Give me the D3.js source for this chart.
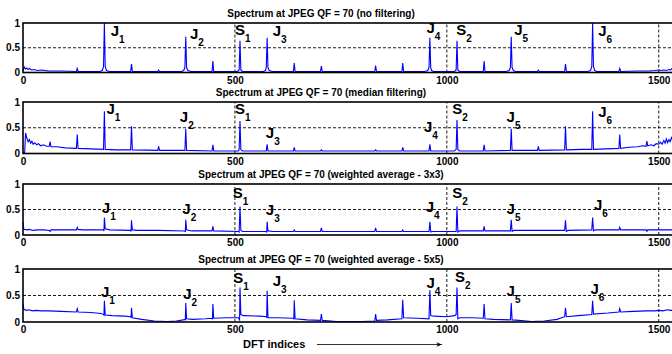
<!DOCTYPE html>
<html>
<head>
<meta charset="utf-8">
<script src="https://cdn.jsdelivr.net/npm/d3@7"></script>
<style>
  body { margin: 0; background: #fff; }
  svg { display: block; font-family: "Liberation Sans", Arial, sans-serif; font-weight: bold; }
  .grid { stroke: #000; stroke-width: 0.9; stroke-dasharray: 3,2; }
  .frame { stroke: #000; stroke-width: 1.6; fill: none; }
  .tick { font-size: 10px; }
  .spec { fill: none; stroke: #0000ff; stroke-width: 1.1; }
</style>
</head>
<body>
<svg id="chart" width="672" height="354"></svg>
<script>
// region data
const titles = [
  'Spectrum at JPEG QF = 70 (no filtering)',
  'Spectrum at JPEG QF = 70 (median filtering)',
  'Spectrum at JPEG QF = 70 (weighted average - 3x3)',
  'Spectrum at JPEG QF = 70 (weighted average - 5x5)'
];
const xTicks = [0, 500, 1000, 1500];
const yTicks = [0, 0.5, 1];
const xLabel = 'DFT indices';

// [DFT index, normalised magnitude]
const specNoFilter = [
  [0,0.03],[3,0.11],[6,0.07],[9,0.09],[12,0.06],[16,0.08],[20,0.05],[26,0.06],[34,0.04],[44,0.05],[60,0.03],[90,0.03],
  [126,0.02],[128,0.08],[130,0.02],[182,0.02],[187,0.04],[190,0.12],[192,1.0],[194,0.12],[197,0.04],[204,0.02],
  [254,0.02],[256,0.17],[258,0.02],[318,0.02],[320,0.05],[322,0.02],[374,0.02],[379,0.04],[382,0.1],[384,0.72],[386,0.1],[389,0.04],[396,0.02],
  [446,0.02],[448,0.23],[450,0.02],[506,0.02],[510,0.05],[512,0.64],[514,0.05],[518,0.02],
  [567,0.02],[572,0.04],[574,0.1],[576,0.7],[578,0.1],[581,0.04],[588,0.02],[638,0.02],[640,0.19],[642,0.02],
  [702,0.02],[704,0.13],[706,0.02],[768,0.02],[830,0.02],[832,0.14],[834,0.02],[894,0.02],[896,0.19],[898,0.02],
  [948,0.02],[955,0.04],[958,0.1],[960,0.7],[962,0.1],[964,0.04],[969,0.02],[1018,0.02],[1022,0.05],[1024,0.64],[1026,0.05],[1030,0.02],
  [1086,0.02],[1088,0.23],[1090,0.02],[1140,0.02],[1147,0.04],[1150,0.1],[1152,0.72],[1154,0.1],[1157,0.04],[1162,0.02],
  [1214,0.02],[1216,0.05],[1218,0.02],[1278,0.02],[1280,0.17],[1282,0.02],
  [1332,0.02],[1339,0.04],[1342,0.12],[1344,1.0],[1346,0.12],[1349,0.04],[1354,0.02],[1406,0.02],[1408,0.08],[1410,0.02],
  [1450,0.03],[1476,0.03],[1490,0.04],[1500,0.05],[1506,0.04],[1512,0.05],[1518,0.04],[1524,0.06],[1528,0.05],[1531,0.08],[1536,0.04]
];
const specMedian = [
  [0,0.01],[4,0.02],[6,0.4],[9,0.3],[12,0.23],[15,0.27],[18,0.2],[21,0.24],[24,0.18],[28,0.21],[32,0.17],[36,0.19],[42,0.15],[48,0.17],
  [56,0.14],[62,0.14],[64,0.23],[66,0.13],[80,0.13],[100,0.11],[126,0.1],[128,0.37],[130,0.1],[160,0.09],[190,0.08],[192,0.82],[194,0.08],
  [220,0.07],[254,0.07],[256,0.53],[258,0.07],[318,0.06],[320,0.14],[322,0.06],[382,0.06],[384,0.48],[386,0.06],
  [446,0.05],[448,0.17],[450,0.05],[508,0.05],[510,0.08],[512,0.63],[514,0.08],[518,0.05],[574,0.05],[576,0.18],[578,0.05],
  [638,0.05],[640,0.12],[642,0.05],[702,0.05],[704,0.07],[706,0.05],[768,0.05],[830,0.05],[832,0.07],[834,0.05],
  [894,0.05],[896,0.12],[898,0.05],[958,0.05],[960,0.18],[962,0.05],[1018,0.05],[1022,0.08],[1024,0.65],[1026,0.08],[1030,0.05],
  [1086,0.05],[1088,0.17],[1090,0.05],[1150,0.06],[1152,0.48],[1154,0.06],[1214,0.06],[1216,0.14],[1218,0.06],
  [1278,0.07],[1280,0.53],[1282,0.07],[1320,0.08],[1342,0.08],[1344,0.82],[1346,0.08],[1376,0.09],[1406,0.1],[1408,0.37],[1410,0.1],
  [1430,0.12],[1450,0.13],[1462,0.15],[1470,0.14],[1472,0.24],[1474,0.15],[1482,0.17],[1488,0.15],[1494,0.19],[1500,0.18],
  [1504,0.22],[1508,0.18],[1512,0.25],[1515,0.2],[1518,0.28],[1521,0.21],[1524,0.27],[1527,0.23],[1530,0.31],[1533,0.26],[1536,0.02]
];
const specAvg3 = [
  [0,0.25],[2,0.11],[10,0.1],[14,0.11],[24,0.09],[34,0.1],[50,0.1],[62,0.09],[64,0.07],[66,0.1],[100,0.1],[126,0.1],[128,0.15],[130,0.11],
  [140,0.1],[190,0.1],[191,0.08],[192,0.34],[194,0.12],[205,0.1],[254,0.09],[255,0.07],[256,0.29],[258,0.1],[270,0.09],
  [320,0.09],[382,0.08],[383,0.06],[384,0.3],[386,0.1],[398,0.08],[446,0.08],[448,0.17],[450,0.08],[508,0.07],[510,0.06],[512,0.56],[514,0.09],[518,0.07],
  [574,0.07],[575,0.05],[576,0.26],[578,0.08],[590,0.07],[638,0.07],[640,0.1],[642,0.07],[702,0.07],[704,0.14],[706,0.07],
  [768,0.07],[830,0.07],[832,0.14],[834,0.07],[894,0.07],[896,0.1],[898,0.07],[958,0.07],[960,0.26],[962,0.06],[965,0.07],
  [1022,0.07],[1024,0.56],[1026,0.06],[1030,0.08],[1086,0.08],[1088,0.17],[1090,0.08],[1150,0.08],[1152,0.3],[1154,0.07],[1158,0.09],
  [1216,0.09],[1278,0.09],[1280,0.29],[1282,0.07],[1286,0.09],[1342,0.1],[1344,0.34],[1346,0.08],[1350,0.1],
  [1406,0.1],[1408,0.15],[1410,0.1],[1440,0.1],[1470,0.1],[1472,0.07],[1474,0.1],[1500,0.1],[1536,0.1]
];
const specAvg5 = [
  [0,0.34],[2,0.24],[8,0.22],[14,0.23],[22,0.21],[30,0.22],[44,0.21],[60,0.21],[90,0.2],[126,0.19],[128,0.25],[130,0.19],
  [160,0.18],[184,0.16],[190,0.14],[191,0.13],[192,0.4],[194,0.13],[210,0.12],[240,0.11],[254,0.1],[255,0.08],[256,0.27],[258,0.08],
  [280,0.05],[310,0.02],[340,0.01],[362,0.02],[378,0.04],[382,0.05],[383,0.03],[384,0.36],[386,0.06],[400,0.05],[430,0.06],
  [446,0.07],[447,0.05],[448,0.34],[450,0.07],[480,0.08],[508,0.08],[511,0.04],[512,0.65],[514,0.14],[520,0.12],[560,0.11],
  [574,0.1],[575,0.08],[576,0.59],[578,0.08],[600,0.08],[638,0.07],[639,0.05],[640,0.41],[642,0.06],[670,0.04],[702,0.03],[704,0.15],[706,0.03],
  [740,0.01],[800,0.01],[830,0.02],[832,0.15],[834,0.03],[860,0.04],[894,0.06],[896,0.42],[898,0.08],[930,0.07],[958,0.06],[960,0.6],[962,0.12],[970,0.11],
  [1000,0.1],[1018,0.12],[1022,0.14],[1024,0.65],[1026,0.06],[1030,0.08],[1060,0.08],[1086,0.07],[1088,0.34],[1090,0.06],[1110,0.05],
  [1150,0.04],[1152,0.36],[1154,0.04],[1170,0.03],[1200,0.01],[1230,0.02],[1260,0.05],[1278,0.1],[1280,0.27],[1282,0.1],[1310,0.12],
  [1342,0.14],[1344,0.4],[1346,0.15],[1380,0.17],[1406,0.19],[1408,0.25],[1410,0.19],[1440,0.2],[1470,0.21],[1490,0.21],[1500,0.22],
  [1510,0.21],[1520,0.23],[1528,0.22],[1536,0.22]
];

// [label, subscript, DFT index, magnitude] for the J / S markers
const labelsNoFilter = [['J','1',207,0.74],['J','2',394,0.68],['S','1',500,0.76],['J','3',589,0.74],['J','4',952,0.8],['S','2',1022,0.76],['J','5',1159,0.76],['J','6',1357,0.73]];
const labelsMedian = [['J','1',197,0.77],['J','2',370,0.62],['S','1',500,0.77],['J','3',573,0.3],['J','4',946,0.41],['S','2',1013,0.77],['J','5',1141,0.61],['J','6',1357,0.71]];
const labelsAvg3 = [['J','1',186,0.44],['J','2',376,0.41],['S','1',495,0.72],['J','3',573,0.39],['J','4',950,0.46],['S','2',1013,0.72],['J','5',1141,0.42],['J','6',1347,0.49]];
const labelsAvg5 = [['J','1',184,0.48],['J','2',378,0.43],['S','1',496,0.73],['J','3',589,0.67],['J','4',952,0.64],['S','2',1019,0.76],['J','5',1141,0.5],['J','6',1339,0.53]];
// endregion

const series = [specNoFilter, specMedian, specAvg3, specAvg5];
const labelSets = [labelsNoFilter, labelsMedian, labelsAvg3, labelsAvg5];

// region size
const left = 23, right = 674;
const tops = [23, 102, 184, 269];
const bottoms = [72.5, 153.5, 235, 322];
// endregion

const svg = d3.select('#chart');

const x = d3.scaleLinear()
  .domain([0, 1536])
  .range([left, right]);

series.forEach((data, i) => {
  const y = d3.scaleLinear()
    .domain([0, 1])
    .range([bottoms[i], tops[i]]);

  const g = svg.append('g');

  // grid
  g.selectAll('.gx')
    .data(xTicks.filter(d => d > 0))
    .enter().append('line')
    .attr('class', 'grid')
    .attr('x1', d => x(d)).attr('x2', d => x(d))
    .attr('y1', y(0)).attr('y2', y(1));

  g.append('line')
    .attr('class', 'grid')
    .attr('x1', x(0)).attr('x2', x(1536))
    .attr('y1', y(0.5)).attr('y2', y(0.5));

  const line = d3.line()
    .x(d => x(d[0]))
    .y(d => y(d[1]));

  g.append('path')
    .datum(data)
    .attr('class', 'spec')
    .attr('d', line);

  g.append('rect')
    .attr('class', 'frame')
    .attr('x', x(0)).attr('y', y(1))
    .attr('width', x(1536) - x(0))
    .attr('height', y(0) - y(1));

  const xAxis = d3.axisBottom(x).tickValues(xTicks).tickSize(0).tickPadding(4).tickFormat(d3.format('d'));
  const yAxis = d3.axisLeft(y).tickValues(yTicks).tickSize(0).tickPadding(3).tickFormat(d => d === 0.5 ? '0.5' : d3.format('d')(d));

  g.append('g')
    .attr('transform', 'translate(0,' + y(0) + ')')
    .call(xAxis)
    .call(s => s.select('.domain').remove())
    .selectAll('text').attr('class', 'tick').attr('fill', '#000');

  g.append('g')
    .attr('transform', 'translate(' + x(0) + ',0)')
    .call(yAxis)
    .call(s => s.select('.domain').remove())
    .selectAll('text').attr('class', 'tick').attr('fill', '#000');

  g.append('text')
    .attr('x', 321)
    .attr('y', tops[i] - 6)
    .attr('text-anchor', 'middle')
    .style('font-size', '10px')
    .text(titles[i]);

  const lab = g.selectAll('.lab')
    .data(labelSets[i])
    .enter().append('text')
    .attr('x', d => x(d[2]))
    .attr('y', d => y(d[3]))
    .style('font-size', '15px');
  lab.append('tspan').text(d => d[0]);
  lab.append('tspan')
    .attr('dy', 7)
    .style('font-size', '10px')
    .text(d => d[1]);
});

svg.selectAll('g text').attr('font-family', null).attr('font-size', null);

// x label with arrow
svg.append('defs').append('marker')
  .attr('id', 'arrow')
  .attr('viewBox', '0 0 10 10')
  .attr('refX', 10).attr('refY', 5)
  .attr('markerWidth', 7).attr('markerHeight', 7)
  .attr('orient', 'auto')
  .append('path')
  .attr('d', 'M0,1 L10,5 L0,9 L3,5 Z')
  .attr('fill', '#000');

svg.append('text')
  .attr('x', 243)
  .attr('y', 348)
  .style('font-size', '11px')
  .text(xLabel);

svg.append('line')
  .attr('x1', 317).attr('x2', 442)
  .attr('y1', 344.5).attr('y2', 344.5)
  .attr('stroke', '#000')
  .attr('stroke-width', 0.8)
  .attr('marker-end', 'url(#arrow)');
</script>
</body>
</html>
